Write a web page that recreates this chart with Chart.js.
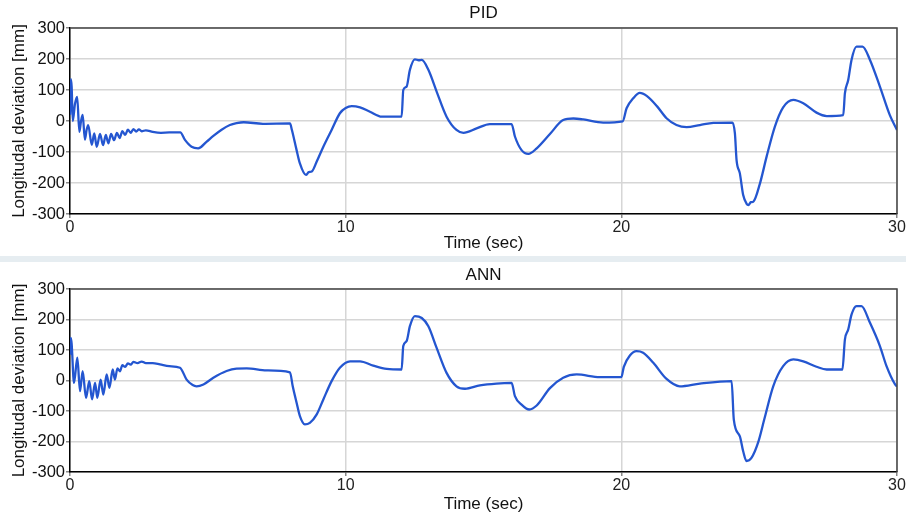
<!DOCTYPE html>
<html>
<head>
<meta charset="utf-8">
<script src="https://cdn.jsdelivr.net/npm/chart.js@4.4.1/dist/chart.umd.min.js"></script>
<style>
  html, body { margin: 0; padding: 0; background: #fff; }
  #wrap { position: relative; width: 906px; height: 515px; }
  #pidChart { position: absolute; left: 0; top: 0; }
  #band { position: absolute; left: 0; top: 256px; width: 906px; height: 6px; background: #e6edf1; }
  #annChart { position: absolute; left: 0; top: 262px; }
</style>
</head>
<body>
<div id="wrap">
  <canvas id="pidChart" width="906" height="256"></canvas>
  <div id="band"></div>
  <canvas id="annChart" width="906" height="253"></canvas>
</div>
<script>
// values
const pidTime = [0.00, 0.03, 0.06, 0.10, 0.18, 0.26, 0.34, 0.40, 0.46, 0.54, 0.60, 0.66, 0.79, 0.88, 0.97, 1.09, 1.20, 1.30, 1.39, 1.49,
  1.60, 1.70, 1.80, 1.90, 2.00, 2.10, 2.20, 2.30, 2.40, 2.50, 2.60, 2.75, 3.00, 3.30, 3.60, 4.00, 4.17, 4.41, 4.65, 4.95,
  5.20, 5.50, 5.80, 6.04, 6.30, 7.00, 7.98, 8.05, 8.22, 8.34, 8.56, 8.66, 8.77, 8.95, 9.19, 9.49, 9.79, 10.00, 10.22, 10.52,
  10.88, 11.31, 12.03, 12.09, 12.21, 12.33, 12.51, 12.65, 12.76, 13.00, 13.30, 13.66, 14.02, 14.27, 14.75, 15.23, 16.02, 16.14, 16.38, 16.63,
  16.93, 17.41, 17.89, 18.26, 18.62, 19.34, 20.05, 20.19, 20.43, 20.67, 20.92, 21.29, 21.64, 22.00, 22.37, 22.85, 23.34, 24.03, 24.12, 24.18,
  24.30, 24.42, 24.55, 24.61, 24.70, 24.79, 25.03, 25.27, 25.57, 25.87, 26.24, 26.60, 27.08, 27.45, 28.05, 28.11, 28.23, 28.35, 28.53, 28.75,
  29.02, 29.38, 29.74, 30.00];
const pidValues = [20, 135, 110, 0, 55, 78, -35, 0, 20, -60, -30, -13, -77, -40, -83, -42, -78, -45, -72, -42,
  -62, -38, -55, -33, -45, -28, -38, -26, -34, -27, -33, -30, -35, -38, -37, -37, -61, -83, -88, -67,
  -48, -28, -13, -7, -4, -9, -8, -29, -94, -137, -174, -165, -163, -131, -83, -29, 25, 42, 48, 44,
  30, 14, 14, 100, 111, 165, 199, 196, 197, 165, 95, 14, -29, -38, -24, -10, -10, -50, -94, -106,
  -88, -42, 3, 8, 5, -5, -1, 41, 73, 91, 81, 48, 9, -13, -20, -13, -6, -5, -40, -126,
  -169, -239, -268, -271, -262, -260, -201, -115, -18, 44, 68, 57, 27, 16, 19, 89, 132, 197, 240, 240,
  197, 111, 19, -29];

const annTime = [0.00, 0.03, 0.06, 0.145, 0.266, 0.363, 0.459, 0.58, 0.70, 0.80, 0.91, 0.99, 1.11, 1.21, 1.33, 1.43, 1.55, 1.63, 1.72, 1.81,
  1.90, 2.00, 2.10, 2.20, 2.30, 2.45, 2.60, 2.75, 3.00, 3.26, 3.60, 3.99, 4.23, 4.45, 4.59, 4.84, 5.20, 5.68, 6.04, 6.41,
  7.13, 7.98, 8.08, 8.22, 8.34, 8.52, 8.70, 8.95, 9.19, 9.49, 9.79, 10.16, 10.52, 11.00, 11.49, 12.03, 12.09, 12.21, 12.33, 12.51,
  12.76, 13.00, 13.30, 13.66, 14.02, 14.33, 14.87, 15.47, 16.02, 16.14, 16.38, 16.66, 16.93, 17.41, 17.89, 18.38, 19.22, 20.00, 20.09, 20.31,
  20.55, 20.79, 21.16, 21.64, 22.12, 22.85, 24.00, 24.08, 24.30, 24.42, 24.54, 24.72, 24.96, 25.20, 25.51, 25.87, 26.24, 26.60, 27.08, 27.45,
  28.02, 28.11, 28.23, 28.35, 28.53, 28.71, 29.02, 29.38, 29.62, 29.93, 30.00];
const annValues = [85, 140, 120, -8, 75, -35, 31, -57, -2, -62, -8, -57, 3, -46, 20, -24, 36, 3, 40, 30,
  50, 45, 56, 52, 61, 57, 62, 57, 57, 53, 47, 42, 3, -15, -19, -13, 9, 31, 39, 40,
  33, 27, -19, -73, -117, -144, -139, -111, -62, -2, 42, 63, 63, 49, 38, 36, 113, 129, 178, 211,
  205, 178, 107, 25, -19, -27, -16, -10, -8, -51, -79, -95, -82, -25, 9, 20, 11, 11, 45, 82,
  96, 91, 58, 5, -19, -10, -2, -128, -183, -232, -264, -254, -204, -122, -19, 47, 69, 63, 45, 36,
  36, 134, 167, 216, 244, 244, 189, 113, 47, -13, -20];

const xTicks = [0, 10, 20, 30];
const yTicks = [-300, -200, -100, 0, 100, 200, 300];

const FONT = "'Liberation Sans', Arial, sans-serif";
const LINE_COLOR = '#2456d0';

const framePlugin = {
  id: 'frame',
  afterDraw(chart) {
    const { ctx, chartArea: a } = chart;
    ctx.save();
    ctx.lineWidth = 1.5;
    ctx.strokeStyle = '#444';
    ctx.beginPath();
    ctx.moveTo(a.left, a.top);
    ctx.lineTo(a.right, a.top);
    ctx.lineTo(a.right, a.bottom);
    ctx.stroke();
    ctx.restore();
  }
};

function makeChart(id, title, times, values, g) {
  const points = times.map((t, i) => ({ x: t, y: values[i] }));
  return new Chart(document.getElementById(id), {
    type: 'line',
    data: {
      datasets: [{
        data: points,
        borderColor: LINE_COLOR,
        borderWidth: 2.3,
        pointRadius: 0,
        cubicInterpolationMode: 'monotone',
        fill: false
      }]
    },
    options: {
      responsive: false,
      animation: false,
      layout: { padding: { left: 0, right: 9, top: 0, bottom: 0 } },
      plugins: {
        legend: { display: false },
        tooltip: { enabled: false },
        title: {
          display: true,
          text: title,
          fullSize: false,
          color: '#111',
          font: { family: FONT, size: 17, weight: 'normal' },
          padding: { top: g.titleTop, bottom: g.titleBottom }
        }
      },
      scales: {
        x: {
          type: 'linear',
          min: 0,
          max: 30,
          afterBuildTicks: (s) => { s.ticks = xTicks.map(v => ({ value: v })); },
          afterFit: (s) => { s.height = g.xHeight; },
          grid: { color: '#d6d6d6', lineWidth: 1.5, tickLength: 4, tickColor: '#888' },
          border: { color: '#000', width: 1.5 },
          ticks: { color: '#222', padding: 0, maxRotation: 0, font: { family: FONT, size: 16 } },
          title: {
            display: true,
            text: 'Time (sec)',
            color: '#111',
            font: { family: FONT, size: 17 },
            padding: { top: 0, bottom: g.xTitlePad }
          }
        },
        y: {
          min: -300,
          max: 300,
          afterBuildTicks: (s) => { s.ticks = yTicks.map(v => ({ value: v })); },
          afterFit: (s) => { s.width = 70; },
          grid: { color: '#d6d6d6', lineWidth: 1.5, tickLength: 4, tickColor: '#888' },
          border: { color: '#000', width: 1.5 },
          ticks: { color: '#111', padding: 1, font: { family: FONT, size: 16.5 } },
          title: {
            display: true,
            text: 'Longitudal deviation [mm]',
            color: '#111',
            font: { family: FONT, size: 17 },
            padding: { top: 9, bottom: 0 }
          }
        }
      }
    },
    plugins: [framePlugin]
  });
}

makeChart('pidChart', 'PID', pidTime, pidValues, { titleTop: 3, titleBottom: 4.6, xHeight: 42, xTitlePad: 2 });
makeChart('annChart', 'ANN', annTime, annValues, { titleTop: 3.5, titleBottom: 3.1, xHeight: 43, xTitlePad: 0 });
</script>
</body>
</html>
